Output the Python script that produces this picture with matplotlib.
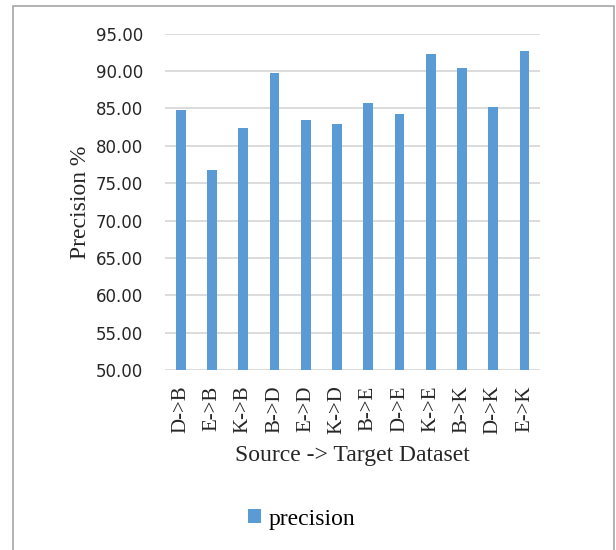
import numpy as np
import matplotlib.pyplot as plt
from matplotlib.patches import Rectangle

# domain adaptation pairs and precision scores
pares = ['D->B', 'E->B', 'K->B', 'B->D', 'E->D', 'K->D',
         'B->E', 'D->E', 'K->E', 'B->K', 'D->K', 'E->K']
precision = [84.8, 76.7, 82.4, 89.7, 83.45, 82.9,
             85.7, 84.2, 92.2, 90.4, 85.2, 92.7]
yticks = [50, 55, 60, 65, 70, 75, 80, 85, 90, 95]

serif = ['Liberation Serif', 'DejaVu Serif']
azul = '#5b9bd5'

fig = plt.figure(figsize=(6.16, 5.5), dpi=100)
ax = fig.add_axes([0.268, 0.327, 0.609, 0.612])

x = np.arange(len(pares))
ax.bar(x, precision, width=0.31, color=azul, label='precision', zorder=3)

ax.set_xlim(-0.5, len(pares) - 0.5)
ax.set_ylim(50, 95)
ax.set_yticks(yticks)
ax.set_yticklabels(['%.2f' % v for v in yticks], fontsize=12, color='#262626',
                   family='DejaVu Sans')
ax.set_xticks(x)
ax.set_xticklabels(pares, rotation=90, fontsize=15, family=serif, color='#262626')
ax.tick_params(axis='y', length=0, pad=16)
ax.tick_params(axis='x', length=0, pad=11)

ax.grid(axis='y', color='#d9d9d9', linewidth=1.3, zorder=0)
for lado in ['top', 'right', 'left', 'bottom']:
    ax.spines[lado].set_visible(False)

ax.set_xlabel('Source -> Target Dataset', fontsize=17, family=serif, color='#262626', labelpad=8)
ax.set_ylabel('Precision %', fontsize=17, family=serif, color='#262626', labelpad=3)

fig.legend(loc='center', bbox_to_anchor=(0.49, 0.056), frameon=False,
           prop={'family': serif, 'size': 17}, handlelength=0.55, handleheight=0.55,
           handletextpad=0.3)

# outer chart border
fig.patches.append(Rectangle((13 / 616, -0.01), 601 / 616, 1 - 6 / 550 + 0.01,
                             transform=fig.transFigure, fill=False,
                             edgecolor='#a6a6a6', linewidth=1.2))

plt.savefig('out.png', dpi=100)
